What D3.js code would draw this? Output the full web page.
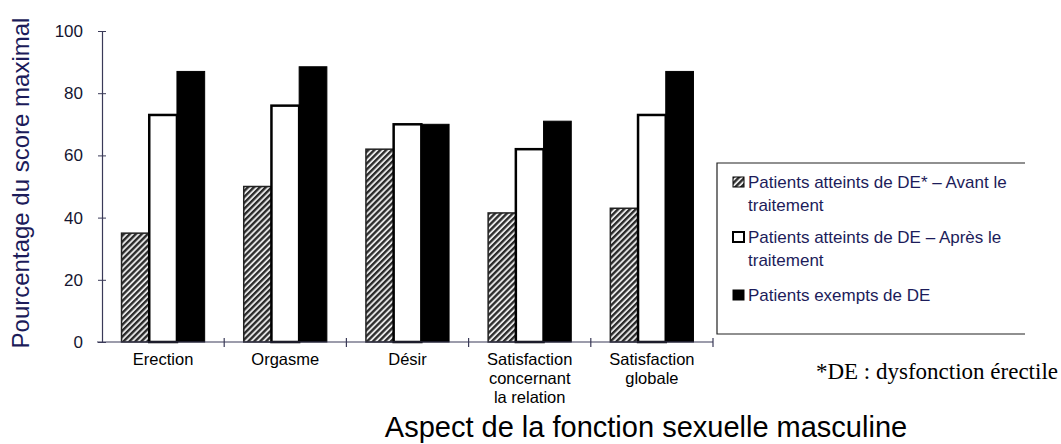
<!DOCTYPE html>
<html>
<head>
<meta charset="utf-8">
<script src="https://cdn.jsdelivr.net/npm/d3@7"></script>
<style>
  body { margin: 0; background: #fff; }
  svg { display: block; font-family: "Liberation Sans", Arial, sans-serif; }
</style>
</head>
<body>
<div id="chart"></div>
<script>
const width = 1061;
const height = 444;

const categories = ["Erection", "Orgasme", "Désir", "Satisfaction concernant la relation", "Satisfaction globale"];
const categoryLines = [["Erection"], ["Orgasme"], ["Désir"], ["Satisfaction", "concernant", "la relation"], ["Satisfaction", "globale"]];
const seriesNames = ["avant", "apres", "exempts"];
const avantValues = [35, 50, 62, 41.5, 43];     // Patients atteints de DE* – Avant le traitement
const apresValues = [73, 76, 70, 62, 73];        // Patients atteints de DE – Après le traitement
const exemptsValues = [87, 88.5, 70, 71, 87];    // Patients exempts de DE
const yTicks = [0, 20, 40, 60, 80, 100];
const legendLines = [
  ["Patients atteints de DE* – Avant le", "traitement"],
  ["Patients atteints de DE – Après le", "traitement"],
  ["Patients exempts de DE"]
];

const seriesValues = [avantValues, apresValues, exemptsValues];
const axisColor = "#3a3a58";
const navy = "#1c1c5a";

const svg = d3.select("#chart")
  .append("svg")
  .attr("width", width)
  .attr("height", height);

// hatch pattern
const defs = svg.append("defs");
const pat = defs.append("pattern")
  .attr("id", "hatch")
  .attr("patternUnits", "userSpaceOnUse")
  .attr("width", 4.2)
  .attr("height", 4.2)
  .attr("patternTransform", "rotate(45)");
pat.append("rect").attr("width", 4.2).attr("height", 4.2).attr("fill", "#e6e6e6");
pat.append("rect").attr("width", 2.3).attr("height", 4.2).attr("fill", "#2a2a2a");

const fills = ["url(#hatch)", "#fff", "#000"];
const strokes = ["#222", "#000", "#000"];
const strokeWidths = [1.5, 2.5, 1];

const x = d3.scaleBand().domain(categories).range([102, 713]).padding(0);
const xs = d3.scaleBand().domain(seriesNames).range([0, x.bandwidth()]).paddingInner(0).paddingOuter(0.705);
const y = d3.scaleLinear().domain([0, 100]).range([342, 31]);

// bars
seriesNames.forEach((s, si) => {
  svg.append("g")
    .selectAll("rect")
    .data(categories)
    .join("rect")
    .attr("x", (c) => x(c) + xs(s))
    .attr("y", (c, i) => y(seriesValues[si][i]))
    .attr("width", xs.bandwidth())
    .attr("height", (c, i) => y(0) - y(seriesValues[si][i]))
    .attr("fill", fills[si])
    .attr("stroke", strokes[si])
    .attr("stroke-width", strokeWidths[si]);
});

// y axis
const yAxis = svg.append("g")
  .attr("transform", `translate(${x.range()[0]},0)`)
  .call(d3.axisLeft(y).tickValues(yTicks).tickSize(4).tickPadding(15).tickSizeOuter(0));
yAxis.select(".domain").attr("stroke", axisColor).attr("stroke-width", 1.2);
yAxis.selectAll(".tick line").attr("stroke", axisColor).attr("x2", 4).attr("x1", -4);
yAxis.selectAll(".tick text")
  .attr("font-size", 17)
  .attr("fill", "#151530")
  .attr("font-family", "Liberation Sans, Arial, sans-serif");

// x axis
const boundaries = categories.map((c) => x(c)).concat([x.range()[1]]);
const xg = svg.append("g");
xg.append("line")
  .attr("x1", 97).attr("x2", x.range()[1])
  .attr("y1", y(0)).attr("y2", y(0))
  .attr("stroke", axisColor).attr("stroke-width", 1.2);
xg.selectAll(".xt")
  .data(boundaries.slice(1))
  .join("line")
  .attr("x1", (d) => d).attr("x2", (d) => d)
  .attr("y1", y(0) - 4).attr("y2", y(0) + 5)
  .attr("stroke", axisColor).attr("stroke-width", 1.2);

// category labels
categories.forEach((c, i) => {
  const t = svg.append("text")
    .attr("x", x(c) + x.bandwidth() / 2)
    .attr("y", 365)
    .attr("text-anchor", "middle")
    .attr("font-size", 16.5)
    .attr("fill", "#000");
  categoryLines[i].forEach((line, li) => {
    t.append("tspan")
      .attr("x", x(c) + x.bandwidth() / 2)
      .attr("dy", li === 0 ? 0 : 19)
      .text(line);
  });
});

// axis titles
svg.append("text")
  .attr("transform", "translate(29,183) rotate(-90)")
  .attr("text-anchor", "middle")
  .attr("font-size", 24)
  .attr("fill", navy)
  .text("Pourcentage du score maximal");

svg.append("text")
  .attr("x", 646)
  .attr("y", 437)
  .attr("text-anchor", "middle")
  .attr("font-size", 29)
  .attr("fill", "#000")
  .text("Aspect de la fonction sexuelle masculine");

// legend
const lg = svg.append("g");
lg.append("path")
  .attr("d", "M1025,163 H717 V334 H1025")
  .attr("fill", "none")
  .attr("stroke", "#222")
  .attr("stroke-width", 1.2);

const entryY = [182, 237, 295];
legendLines.forEach((lines, i) => {
  lg.append("rect")
    .attr("x", 733).attr("y", entryY[i] - 5)
    .attr("width", 11).attr("height", 10)
    .attr("fill", fills[i])
    .attr("stroke", "#000")
    .attr("stroke-width", i === 1 ? 2 : 1);
  const t = lg.append("text")
    .attr("x", 748)
    .attr("y", entryY[i] + 6)
    .attr("font-size", 17)
    .attr("fill", navy);
  lines.forEach((line, li) => {
    t.append("tspan")
      .attr("x", 748)
      .attr("dy", li === 0 ? 0 : 23)
      .text(line);
  });
});

// footnote
svg.append("text")
  .attr("x", 1058)
  .attr("y", 379)
  .attr("text-anchor", "end")
  .attr("font-family", "Liberation Serif, Times New Roman, serif")
  .attr("font-size", 23)
  .attr("fill", "#000")
  .text("*DE : dysfonction érectile");
</script>
</body>
</html>
